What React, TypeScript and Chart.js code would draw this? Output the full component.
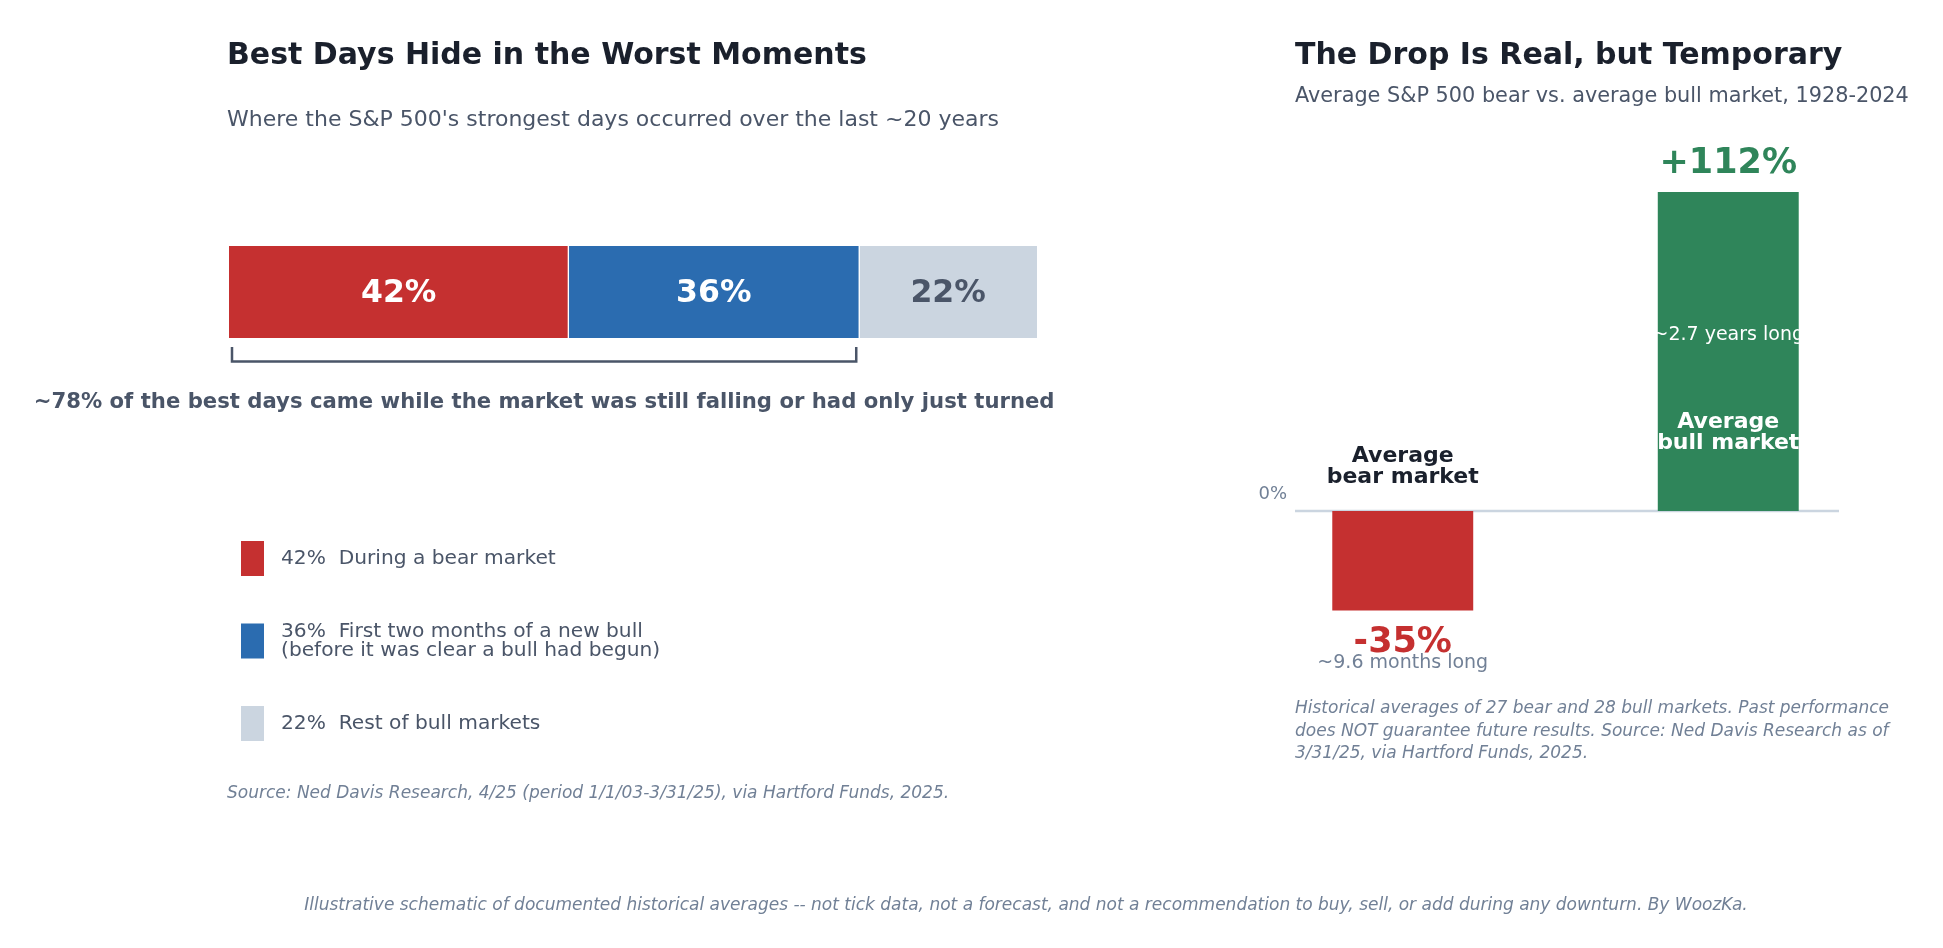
import React, { useEffect, useRef } from "react";
import { Chart, registerables } from "chart.js";

Chart.register(...registerables);

const W = 1943;
const H = 948;
const FONT = '"DejaVu Sans", "Liberation Sans", sans-serif';

// ---- Left panel: where the strongest days fell ----
const phaseShares = [42, 36, 22];
const phaseLabels = [
  "During a bear market",
  "First two months of a new bull\n(before it was clear a bull had begun)",
  "Rest of bull markets",
];
const phaseColors = ["#c53030", "#2b6cb0", "#cbd5e0"];
const phaseValueColors = ["#ffffff", "#ffffff", "#4a5568"];
const bracketSegments = 2; // bear market + first two months of a new bull

// ---- Right panel: average bear vs. average bull ----
const marketLabels = ["Average\nbear market", "Average\nbull market"];
const marketReturns = [-35, 112];
const marketDurations = ["~9.6 months long", "~2.7 years long"];
const marketColors = ["#c53030", "#2f855a"];
const returnTicks = [0];

const C_DARK = "#1a202c";
const C_MID = "#4a5568";
const C_SOFT = "#718096";

function drawText(
  ctx: CanvasRenderingContext2D,
  str: string,
  x: number,
  y: number,
  font: string,
  color: string,
  align: CanvasTextAlign = "left"
) {
  ctx.save();
  ctx.font = font;
  ctx.fillStyle = color;
  ctx.textAlign = align;
  ctx.textBaseline = "alphabetic";
  ctx.fillText(str, x, y);
  ctx.restore();
}

const leftDecor = {
  id: "leftDecor",
  afterDraw(chart: any) {
    const ctx: CanvasRenderingContext2D = chart.ctx;
    const xs = chart.scales.x;
    const area = chart.chartArea;

    drawText(ctx, "Best Days Hide in the Worst Moments", 227, 64, `bold 30px ${FONT}`, C_DARK);
    drawText(
      ctx,
      "Where the S&P 500's strongest days occurred over the last ~20 years",
      227,
      126,
      `22px ${FONT}`,
      C_MID
    );

    // value labels centred in each segment
    chart.data.datasets.forEach((_ds: any, i: number) => {
      const el = chart.getDatasetMeta(i).data[0];
      const p = el.getProps(["x", "base", "y"], true);
      drawText(ctx, `${phaseShares[i]}%`, (p.x + p.base) / 2, p.y + 9.5, `bold 31.5px ${FONT}`, phaseValueColors[i], "center");
    });

    // bracket spanning the first segments
    const covered = phaseShares.slice(0, bracketSegments).reduce((a, b) => a + b, 0);
    const bx0 = xs.getPixelForValue(0) + 3;
    const bx1 = xs.getPixelForValue(covered) - 3;
    const bTop = area.bottom + 9;
    const bBot = area.bottom + 23.5;
    ctx.save();
    ctx.strokeStyle = C_MID;
    ctx.lineWidth = 2.5;
    ctx.lineJoin = "miter";
    ctx.beginPath();
    ctx.moveTo(bx0, bTop);
    ctx.lineTo(bx0, bBot);
    ctx.lineTo(bx1, bBot);
    ctx.lineTo(bx1, bTop);
    ctx.stroke();
    ctx.restore();

    drawText(
      ctx,
      `~${covered}% of the best days came while the market was still falling or had only just turned`,
      (bx0 + bx1) / 2,
      408,
      `bold 21.2px ${FONT}`,
      C_MID,
      "center"
    );

    // legend
    phaseShares.forEach((v, i) => {
      const top = 541 + i * 82.5;
      const center = top + 17.5;
      ctx.fillStyle = phaseColors[i];
      ctx.fillRect(241, top, 23, 35);
      const lines = `${v}%  ${phaseLabels[i]}`.split("\n");
      lines.forEach((ln, k) => {
        const by = center + 5.5 + (k - (lines.length - 1) / 2) * 19;
        drawText(ctx, ln, 281, by, `20.2px ${FONT}`, C_MID);
      });
    });

    drawText(
      ctx,
      "Source: Ned Davis Research, 4/25 (period 1/1/03-3/31/25), via Hartford Funds, 2025.",
      227,
      798,
      `italic 17px ${FONT}`,
      C_SOFT
    );

    drawText(
      ctx,
      "Illustrative schematic of documented historical averages -- not tick data, not a forecast, and not a recommendation to buy, sell, or add during any downturn. By WoozKa.",
      1026,
      910,
      `italic 17px ${FONT}`,
      C_SOFT,
      "center"
    );
  },
};

const rightDecor = {
  id: "rightDecor",
  beforeDatasetsDraw(chart: any) {
    const ctx: CanvasRenderingContext2D = chart.ctx;
    const ys = chart.scales.y;
    returnTicks.forEach((t) => {
      const y0 = ys.getPixelForValue(t);
      ctx.save();
      ctx.strokeStyle = "#cbd5e0";
      ctx.lineWidth = 2.5;
      ctx.beginPath();
      ctx.moveTo(1295, y0);
      ctx.lineTo(1839, y0);
      ctx.stroke();
      ctx.restore();
    });
  },
  afterDraw(chart: any) {
    const ctx: CanvasRenderingContext2D = chart.ctx;
    const ys = chart.scales.y;
    const zero = ys.getPixelForValue(0);

    drawText(ctx, "The Drop Is Real, but Temporary", 1295, 64, `bold 30px ${FONT}`, C_DARK);
    drawText(ctx, "Average S&P 500 bear vs. average bull market, 1928-2024", 1295, 102, `20.8px ${FONT}`, C_MID);

    returnTicks.forEach((t) => {
      drawText(ctx, `${t}%`, 1287, ys.getPixelForValue(t) - 12, `18px ${FONT}`, C_SOFT, "right");
    });

    const meta = chart.getDatasetMeta(0);
    marketReturns.forEach((v, i) => {
      const el = meta.data[i];
      const p = el.getProps(["x", "y"], true);
      const valueText = `${v > 0 ? "+" : ""}${v}%`;
      const lines = marketLabels[i].split("\n");
      if (v < 0) {
        drawText(ctx, valueText, p.x, p.y + 41.5, `bold 35px ${FONT}`, marketColors[i], "center");
        drawText(ctx, marketDurations[i], p.x, p.y + 57.5, `19px ${FONT}`, C_SOFT, "center");
        lines.forEach((ln, k) => {
          drawText(ctx, ln, p.x, zero - 49.3 + k * 21, `bold 22px ${FONT}`, C_DARK, "center");
        });
      } else {
        drawText(ctx, valueText, p.x, p.y - 19.3, `bold 35px ${FONT}`, marketColors[i], "center");
        drawText(ctx, marketDurations[i], p.x, ys.getPixelForValue(v * 0.55) + 4, `19px ${FONT}`, "#ffffff", "center");
        const c = ys.getPixelForValue(v * 0.25);
        lines.forEach((ln, k) => {
          drawText(ctx, ln, p.x, c - 3 + k * 21, `bold 22px ${FONT}`, "#ffffff", "center");
        });
      }
    });

    const notes = [
      "Historical averages of 27 bear and 28 bull markets. Past performance",
      "does NOT guarantee future results. Source: Ned Davis Research as of",
      "3/31/25, via Hartford Funds, 2025.",
    ];
    notes.forEach((ln, k) => {
      drawText(ctx, ln, 1295, 713 + k * 22.5, `italic 17px ${FONT}`, C_SOFT);
    });
  },
};

export default function App() {
  const leftRef = useRef<HTMLCanvasElement>(null);
  const rightRef = useRef<HTMLCanvasElement>(null);

  useEffect(() => {
    const left = new Chart(leftRef.current as HTMLCanvasElement, {
      type: "bar",
      data: {
        labels: ["Best days"],
        datasets: phaseShares.map((v, i) => ({
          label: phaseLabels[i],
          data: [v],
          backgroundColor: phaseColors[i],
          borderColor: "#ffffff",
          borderWidth: {
            left: i === 0 ? 0 : 1,
            right: i === phaseShares.length - 1 ? 0 : 1,
            top: 0,
            bottom: 0,
          },
          borderSkipped: false,
          barPercentage: 1,
          categoryPercentage: 1,
        })),
      },
      options: {
        indexAxis: "y",
        responsive: false,
        animation: false,
        devicePixelRatio: 1,
        layout: { padding: { left: 229, right: W - 1037, top: 246, bottom: H - 338 } },
        scales: {
          x: { stacked: true, min: 0, max: 100, display: false },
          y: { stacked: true, display: false },
        },
        plugins: {
          legend: { display: false },
          tooltip: { enabled: false },
          title: { display: false },
        },
      } as any,
      plugins: [leftDecor],
    });

    const right = new Chart(rightRef.current as HTMLCanvasElement, {
      type: "bar",
      data: {
        labels: marketLabels,
        datasets: [
          {
            data: marketReturns,
            backgroundColor: marketColors,
            borderWidth: 0,
            barPercentage: 0.433,
            categoryPercentage: 1,
          },
        ],
      },
      options: {
        responsive: false,
        animation: false,
        devicePixelRatio: 1,
        layout: { padding: { left: 1240, right: W - 1891, top: 155, bottom: H - 639 } },
        scales: {
          x: { display: false },
          y: { min: -45, max: 125, display: false },
        },
        plugins: {
          legend: { display: false },
          tooltip: { enabled: false },
          title: { display: false },
        },
      } as any,
      plugins: [rightDecor],
    });

    return () => {
      left.destroy();
      right.destroy();
    };
  }, []);

  const canvasStyle: React.CSSProperties = { position: "absolute", left: 0, top: 0, width: W, height: H };

  return (
    <div style={{ position: "absolute", left: 0, top: 0, width: W, height: H, background: "#ffffff", overflow: "hidden" }}>
      <canvas ref={leftRef} width={W} height={H} style={canvasStyle} />
      <canvas ref={rightRef} width={W} height={H} style={canvasStyle} />
    </div>
  );
}
